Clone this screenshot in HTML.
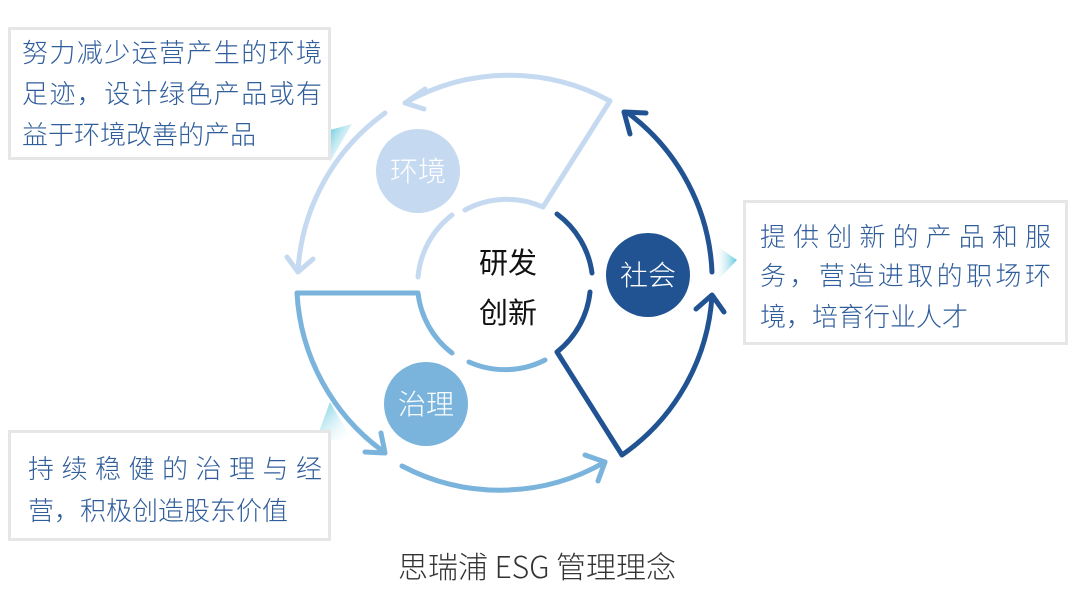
<!DOCTYPE html>
<html><head><meta charset="utf-8"><style>
body{margin:0;width:1080px;height:592px;background:#fff;position:relative;overflow:hidden;font-family:"Liberation Sans","Noto Sans CJK SC",sans-serif}
.box{position:absolute;border:3px solid #e6e6e6;box-sizing:border-box;background:#fff}
.t{position:absolute;color:#2f5d9a;font-size:26px;white-space:nowrap;line-height:30px;font-family:"Noto Sans CJK SC",sans-serif;font-weight:300}
.j{text-align-last:justify;text-align:justify}
</style></head><body>
<svg width="1080" height="592" style="position:absolute;left:0;top:0">
<defs>
<linearGradient id="g1" x1="0" y1="0" x2="1" y2="1"><stop offset="0" stop-color="#5cc6dc"/><stop offset="1" stop-color="#fff" stop-opacity="0"/></linearGradient>
<linearGradient id="g2" x1="1" y1="0" x2="0" y2="0"><stop offset="0" stop-color="#5cc6dc"/><stop offset="1" stop-color="#fff" stop-opacity="0"/></linearGradient>
</defs>
<g fill="none" stroke-linecap="round" stroke-linejoin="round" stroke-width="5">
<g stroke="#c5daf0">
<path d="M610,101 L543,207 A88,88 0 0 0 465,210"/>
<path d="M452,215 A88,88 0 0 0 418,277"/>
<path d="M610,101 A210,210 0 0 0 405,103"/>
<path d="M425,89 L405,103 L424,109"/>
<path d="M385,113 A210,210 0 0 0 298,270"/>
<path d="M287,257 L298,272 L313,259"/>
</g>
<g stroke="#7ab4dc">
<path d="M297,293 L418,293 A88,88 0 0 0 452,353"/>
<path d="M469,362 A88,88 0 0 0 545,360"/>
<path d="M297,293 A210,210 0 0 0 384,452"/>
<path d="M381,433 L385,453 L365,452"/>
<path d="M402,466 A210,210 0 0 0 605,462"/>
<path d="M585,455 L605,462 L598,481"/>
</g>
<g stroke="#215393">
<path d="M557,214 A88,88 0 0 1 592,273"/>
<path d="M590,292 A88,88 0 0 1 557,352 L622,455 A210,210 0 0 0 712,296"/>
<path d="M696,309 L712,295 L724,312"/>
<path d="M712,272 A210,210 0 0 0 628,113"/>
<path d="M646,113 L624,112 L630,134"/>
</g>
</g>
<polygon points="330,130 352,124 330,162" fill="url(#g1)"/>
<polygon points="330,402 352,440 316,440" fill="url(#g1)"/>
<polygon points="737,260 714,244 714,284" fill="url(#g2)"/>
<circle cx="418" cy="171" r="42" fill="#c5daf0"/>
<circle cx="426" cy="404" r="42" fill="#7ab4dc"/>
<circle cx="648" cy="275" r="42" fill="#215393"/>
<g font-family="Noto Sans CJK SC" font-weight="300" fill="#fff" font-size="28" text-anchor="middle">
<text x="418" y="181">环境</text>
<text x="426" y="414">治理</text>
<text x="648" y="285">社会</text>
</g>
<text x="508" y="273" fill="#111" font-size="29" text-anchor="middle" font-family="Noto Sans CJK SC" font-weight="400">研发</text>
<text x="508" y="323" fill="#111" font-size="29" text-anchor="middle" font-family="Noto Sans CJK SC" font-weight="400">创新</text>
<text x="537" y="578" fill="#333" font-size="30" text-anchor="middle" font-family="Noto Sans CJK SC" font-weight="300">思瑞浦 ESG 管理理念</text>
</svg>
<div class="box" style="left:8px;top:27px;width:323px;height:133px"></div>
<div class="box" style="left:743px;top:200px;width:325px;height:145px"></div>
<div class="box" style="left:8px;top:430px;width:323px;height:111px"></div>
<div class="t j" style="left:22px;top:37px;width:300px">努力减少运营产生的环境</div>
<div class="t j" style="left:22px;top:78px;width:300px">足迹，设计绿色产品或有</div>
<div class="t" style="left:22px;top:119px">益于环境改善的产品</div>
<div class="t j" style="left:760px;top:221px;width:291px">提供创新的产品和服</div>
<div class="t j" style="left:760px;top:260px;width:291px">务，营造进取的职场环</div>
<div class="t" style="left:760px;top:301px">境，培育行业人才</div>
<div class="t j" style="left:28px;top:453px;width:294px">持续稳健的治理与经</div>
<div class="t" style="left:28px;top:495px">营，积极创造股东价值</div>
</body></html>
